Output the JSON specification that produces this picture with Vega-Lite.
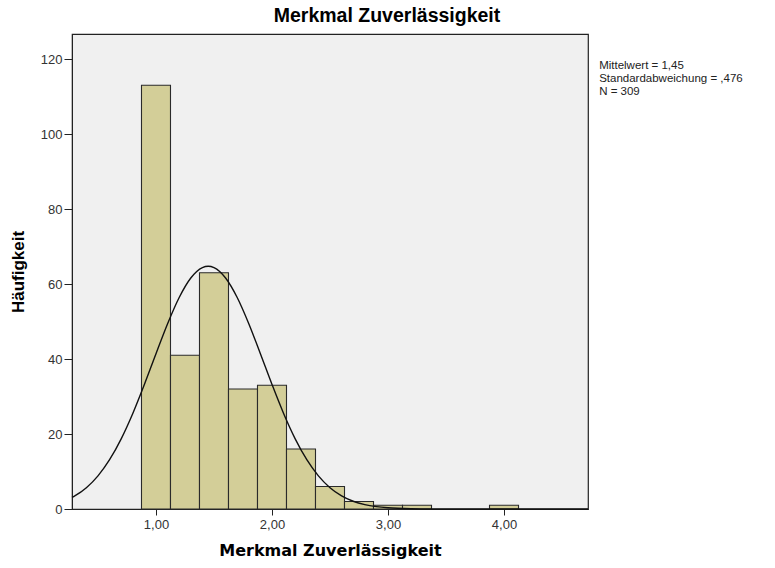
{
  "$schema": "https://vega.github.io/schema/vega-lite/v6.json",
  "autosize": "none",
  "width": 516,
  "height": 475,
  "padding": {"left": 72, "top": 34, "right": 187, "bottom": 59},
  "background": "white",
  "title": {
    "text": "Merkmal Zuverlässigkeit",
    "font": "Liberation Sans",
    "fontSize": 19.5,
    "fontWeight": "bold",
    "color": "black",
    "anchor": "middle",
    "dx": 57,
    "offset": 8
  },
  "config": {
    "view": {"fill": "#F0F0F0", "stroke": "#222", "strokeWidth": 1.2},
    "axis": {
      "grid": false,
      "domainColor": "#222",
      "tickColor": "#222",
      "labelFont": "Liberation Sans",
      "labelFontSize": 13,
      "labelColor": "#333",
      "titleColor": "black",
      "titleFontWeight": "bold"
    }
  },
  "datasets": {
    "bins": [
      {"bin_start": 0.875, "bin_end": 1.125, "count": 113},
      {"bin_start": 1.125, "bin_end": 1.375, "count": 41},
      {"bin_start": 1.375, "bin_end": 1.625, "count": 63},
      {"bin_start": 1.625, "bin_end": 1.875, "count": 32},
      {"bin_start": 1.875, "bin_end": 2.125, "count": 33},
      {"bin_start": 2.125, "bin_end": 2.375, "count": 16},
      {"bin_start": 2.375, "bin_end": 2.625, "count": 6},
      {"bin_start": 2.625, "bin_end": 2.875, "count": 2},
      {"bin_start": 2.875, "bin_end": 3.125, "count": 1},
      {"bin_start": 3.125, "bin_end": 3.375, "count": 1},
      {"bin_start": 3.875, "bin_end": 4.125, "count": 1}
    ],
    "curve": [
      {"x": 0.276, "y": 3.09},
      {"x": 0.3, "y": 3.5},
      {"x": 0.4, "y": 5.68},
      {"x": 0.5, "y": 8.84},
      {"x": 0.6, "y": 13.14},
      {"x": 0.7, "y": 18.71},
      {"x": 0.8, "y": 25.48},
      {"x": 0.9, "y": 33.21},
      {"x": 1.0, "y": 41.41},
      {"x": 1.1, "y": 49.41},
      {"x": 1.2, "y": 56.4},
      {"x": 1.3, "y": 61.6},
      {"x": 1.4, "y": 64.38},
      {"x": 1.45, "y": 64.74},
      {"x": 1.5, "y": 64.38},
      {"x": 1.6, "y": 61.6},
      {"x": 1.7, "y": 56.4},
      {"x": 1.8, "y": 49.41},
      {"x": 1.9, "y": 41.41},
      {"x": 2.0, "y": 33.21},
      {"x": 2.1, "y": 25.48},
      {"x": 2.2, "y": 18.71},
      {"x": 2.3, "y": 13.14},
      {"x": 2.4, "y": 8.84},
      {"x": 2.5, "y": 5.68},
      {"x": 2.6, "y": 3.5},
      {"x": 2.7, "y": 2.06},
      {"x": 2.8, "y": 1.16},
      {"x": 2.9, "y": 0.63},
      {"x": 3.0, "y": 0.32},
      {"x": 3.2, "y": 0.075},
      {"x": 3.4, "y": 0.015},
      {"x": 3.6, "y": 0.002},
      {"x": 4.0, "y": 0},
      {"x": 4.724, "y": 0}
    ]
  },
  "layer": [
    {
      "data": {"name": "bins"},
      "mark": {"type": "rect", "fill": "#D3CE98", "stroke": "#2a2a2a", "strokeWidth": 1.1},
      "encoding": {
        "x": {
          "field": "bin_start",
          "type": "quantitative",
          "scale": {"domain": [0.276, 4.724], "nice": false, "zero": false},
          "axis": {
            "title": "Merkmal Zuverlässigkeit",
            "titleFont": "DejaVu Sans",
            "titleFontSize": 16,
            "titlePadding": 11,
            "values": [1, 2, 3, 4],
            "labelExpr": "replace(format(datum.value, '.2f'), '.', ',')",
            "tickSize": 6,
            "labelPadding": 3
          }
        },
        "x2": {"field": "bin_end"},
        "y": {
          "field": "count",
          "type": "quantitative",
          "scale": {"domain": [0, 126.67], "nice": false},
          "axis": {
            "title": "Häufigkeit",
            "titleFont": "Liberation Sans",
            "titleFontSize": 17,
            "titlePadding": 13,
            "values": [0, 20, 40, 60, 80, 100, 120],
            "tickSize": 8,
            "labelPadding": 2
          }
        },
        "y2": {"datum": 0}
      }
    },
    {
      "data": {"name": "curve"},
      "mark": {"type": "line", "color": "#111", "strokeWidth": 1.4, "interpolate": "monotone"},
      "encoding": {
        "x": {"field": "x", "type": "quantitative"},
        "y": {"field": "y", "type": "quantitative"}
      }
    },
    {
      "data": {"values": [{}]},
      "mark": {
        "type": "text",
        "text": ["Mittelwert = 1,45", "Standardabweichung = ,476", "N = 309"],
        "font": "Liberation Sans",
        "fontSize": 11.5,
        "lineHeight": 13,
        "align": "left",
        "baseline": "alphabetic",
        "color": "#222"
      },
      "encoding": {
        "x": {"datum": 4.82},
        "y": {"datum": 117.4}
      }
    }
  ]
}
